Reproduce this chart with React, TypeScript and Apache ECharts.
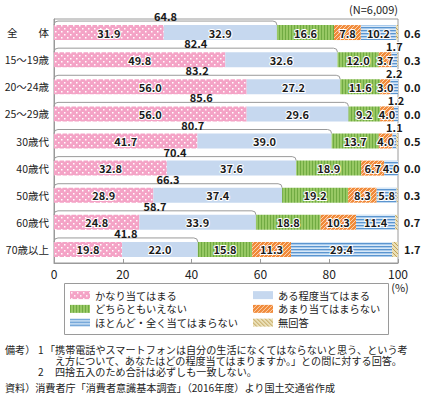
import React, { useEffect, useRef } from "react";
import * as echarts from "echarts";

const categories = ["全　　体", "15～19歳", "20～24歳", "25～29歳", "30歳代", "40歳代", "50歳代", "60歳代", "70歳以上"];
const seriesNames = ["かなり当てはまる", "ある程度当てはまる", "どちらともいえない", "あまり当てはまらない", "ほとんど・全く当てはまらない", "無回答"];
const kanari = [31.9, 49.8, 56.0, 56.0, 41.7, 32.8, 28.9, 24.8, 19.8];
const aruteido = [32.9, 32.6, 27.2, 29.6, 39.0, 37.6, 37.4, 33.9, 22.0];
const dochira = [16.6, 12.0, 11.6, 9.2, 13.7, 18.9, 19.2, 18.8, 15.8];
const amari = [7.8, 3.7, 3.0, 4.0, 4.0, 6.7, 8.3, 10.3, 11.3];
const hotondo = [10.2, 1.7, 2.2, 1.2, 1.1, 4.0, 5.8, 11.4, 29.4];
const muKaito = [0.6, 0.3, 0.0, 0.0, 0.5, 0.0, 0.3, 0.7, 1.7];
const positiveTotals = [64.8, 82.4, 83.2, 85.6, 80.7, 70.4, 66.3, 58.7, 41.8];
const xTicks = [0, 20, 40, 60, 80, 100];

const FONT = "'Noto Sans CJK JP', 'Noto Sans', sans-serif";
const BAR_W = 15;

function makePattern(w: number, h: number, draw: (c: CanvasRenderingContext2D) => void) {
  const cv = document.createElement("canvas");
  cv.width = w;
  cv.height = h;
  const ctx = cv.getContext("2d")!;
  draw(ctx);
  return { image: cv, repeat: "repeat", imageWidth: w, imageHeight: h } as any;
}

export default function App() {
  const ref = useRef<HTMLDivElement>(null);
  useEffect(() => {
    if (!ref.current) return;
    const chart = echarts.init(ref.current, undefined, { renderer: "svg" });

    const pink = makePattern(6, 6, (c) => {
      c.fillStyle = "#f4a3c6";
      c.fillRect(0, 0, 6, 6);
      c.fillStyle = "#ffffff";
      c.fillRect(1, 1, 1.5, 1.5);
      c.fillRect(4, 4, 1.5, 1.5);
    });
    const blue = "#c6d8ef";
    const green = makePattern(3, 3, (c) => {
      c.fillStyle = "#97c864";
      c.fillRect(0, 0, 3, 3);
      c.fillStyle = "#70aa42";
      c.fillRect(0, 0, 1, 3);
    });
    const orange = makePattern(4, 4, (c) => {
      c.fillStyle = "#f08a3a";
      c.fillRect(0, 0, 4, 4);
      c.strokeStyle = "#fcd2ae";
      c.lineWidth = 1;
      c.beginPath();
      c.moveTo(-1, 5);
      c.lineTo(5, -1);
      c.moveTo(-1, 1);
      c.lineTo(1, -1);
      c.moveTo(3, 5);
      c.lineTo(5, 3);
      c.stroke();
    });
    const stripes = makePattern(3, 3, (c) => {
      c.fillStyle = "#a9cbec";
      c.fillRect(0, 0, 3, 3);
      c.fillStyle = "#5b95cf";
      c.fillRect(0, 0, 3, 1);
      c.fillStyle = "#d8e8f7";
      c.fillRect(0, 2, 3, 1);
    });
    const tan = makePattern(4, 4, (c) => {
      c.fillStyle = "#eadfb6";
      c.fillRect(0, 0, 4, 4);
      c.strokeStyle = "#bfa157";
      c.lineWidth = 1;
      c.beginPath();
      c.moveTo(-1, -1);
      c.lineTo(5, 5);
      c.moveTo(3, -1);
      c.lineTo(5, 1);
      c.moveTo(-1, 3);
      c.lineTo(1, 5);
      c.stroke();
    });

    const fills = [pink, blue, green, orange, stripes, tan];
    const values = [kanari, aruteido, dochira, amari, hotondo, muKaito];

    const baseLabel = {
      show: true,
      fontSize: 11,
      fontWeight: "bold" as const,
      fontFamily: FONT,
      color: "#1a1a1a",
      textBorderColor: "#ffffff",
      textBorderWidth: 2,
      formatter: (p: any) => Number(p.value).toFixed(1),
    };

    const barSeries = values.map((arr, si) => ({
      name: seriesNames[si],
      type: "bar",
      stack: "total",
      barWidth: BAR_W,
      itemStyle: { color: fills[si] },
      label:
        si === 5
          ? { ...baseLabel, position: "right", distance: 6, textBorderWidth: 0 }
          : { ...baseLabel, position: "inside" },
      data: arr.map((v) => {
        if (si === 4 && v < 3) {
          return { value: v, label: { position: "top", distance: 1 } };
        }
        return v;
      }),
    }));

    const bracketSeries = {
      type: "custom",
      name: "bracket",
      silent: true,
      z: 5,
      encode: { x: 0, y: 1 },
      data: positiveTotals.map((v, i) => [v, i]),
      renderItem: (params: any, api: any) => {
        const v = api.value(0);
        const idx = api.value(1);
        const p0 = api.coord([0, idx]);
        const p1 = api.coord([v, idx]);
        const pm = api.coord([v / 2, idx]);
        const x0 = p0[0];
        const yc = p0[1];
        const x1 = p1[0];
        const top = yc - BAR_W / 2;
        const ly = top - 4;
        const r = 4;
        const d = `M${x0} ${top} Q${x0} ${ly} ${x0 + r} ${ly} L${x1 - r} ${ly} Q${x1} ${ly} ${x1} ${top}`;
        return {
          type: "group",
          children: [
            { type: "path", shape: { pathData: d }, style: { fill: "none", stroke: "#9a9a9a", lineWidth: 1 } },
            {
              type: "text",
              style: {
                text: Number(v).toFixed(1),
                x: pm[0],
                y: ly - 5,
                textAlign: "center",
                textVerticalAlign: "middle",
                fontSize: 11,
                fontWeight: "bold",
                fontFamily: FONT,
                fill: "#1a1a1a",
              },
            },
          ],
        };
      },
    };

    const noteStyle = { fontSize: 10.1, lineHeight: 10.5, fontFamily: FONT, fill: "#222", textVerticalAlign: "middle" };

    chart.setOption({
      animation: false,
      backgroundColor: "#ffffff",
      grid: { left: 54, right: 28, top: 19, bottom: 134, show: true, borderColor: "#9a9a9a", borderWidth: 1, containLabel: false },
      xAxis: {
        type: "value",
        min: 0,
        max: 100,
        interval: 20,
        axisLine: { show: true, lineStyle: { color: "#9a9a9a" } },
        axisTick: { show: true, inside: true, length: 4, lineStyle: { color: "#9a9a9a" } },
        splitLine: { show: false },
        axisLabel: {
          fontSize: 12,
          fontFamily: FONT,
          color: "#222",
          margin: 4,
          formatter: (v: number) => (xTicks.includes(v) ? String(v) : ""),
        },
      },
      yAxis: {
        type: "category",
        data: categories,
        inverse: true,
        axisLine: { show: true, lineStyle: { color: "#9a9a9a" } },
        axisTick: { show: false },
        axisLabel: { fontSize: 10.5, fontFamily: FONT, color: "#222", margin: 5 },
      },
      legend: [
        {
          data: [seriesNames[0], seriesNames[2], seriesNames[4]],
          orient: "vertical",
          left: 70,
          top: 290,
          itemWidth: 20,
          itemHeight: 8,
          itemGap: 3.5,
          padding: 0,
          icon: "rect",
          selectedMode: false,
          textStyle: { fontSize: 10.25, fontFamily: FONT, color: "#222" },
        },
        {
          data: [seriesNames[1], seriesNames[3], seriesNames[5]],
          orient: "vertical",
          left: 253,
          top: 290,
          itemWidth: 20,
          itemHeight: 8,
          itemGap: 3.5,
          padding: 0,
          icon: "rect",
          selectedMode: false,
          textStyle: { fontSize: 10.25, fontFamily: FONT, color: "#222" },
        },
      ],
      graphic: [
        { type: "rect", shape: { x: 64.5, y: 283.5, width: 324, height: 51 }, style: { fill: "none", stroke: "#9a9a9a", lineWidth: 1 }, z: -1 },
        { type: "text", style: { text: "(N=6,009)", x: 398, y: 9, textAlign: "right", textVerticalAlign: "middle", fontSize: 11, fontFamily: FONT, fill: "#222" } },
        { type: "text", style: { text: "(%)", x: 400, y: 287, textAlign: "center", textVerticalAlign: "middle", fontSize: 11, fontFamily: FONT, fill: "#222" } },
        { type: "text", style: { ...noteStyle, text: "備考）", x: 5, y: 349.5 } },
        { type: "text", style: { ...noteStyle, text: "1", x: 38, y: 349.5 } },
        { type: "text", style: { ...noteStyle, text: "「携帯電話やスマートフォンは自分の生活になくてはならないと思う、という考", x: 45, y: 349.5 } },
        { type: "text", style: { ...noteStyle, text: "え方について、あなたはどの程度当てはまりますか。」との問に対する回答。", x: 55, y: 360.5 } },
        { type: "text", style: { ...noteStyle, text: "2", x: 38, y: 371.5 } },
        { type: "text", style: { ...noteStyle, text: "四捨五入のため合計は必ずしも一致しない。", x: 55, y: 371.5 } },
        { type: "text", style: { ...noteStyle, text: "資料）消費者庁「消費者意識基本調査」（2016年度）より国土交通省作成", x: 5, y: 387 } },
      ],
      series: [...barSeries, bracketSeries],
    } as any);

    return () => chart.dispose();
  }, []);

  return <div ref={ref} style={{ position: "fixed", left: 0, top: 0, width: 426, height: 397 }} />;
}
